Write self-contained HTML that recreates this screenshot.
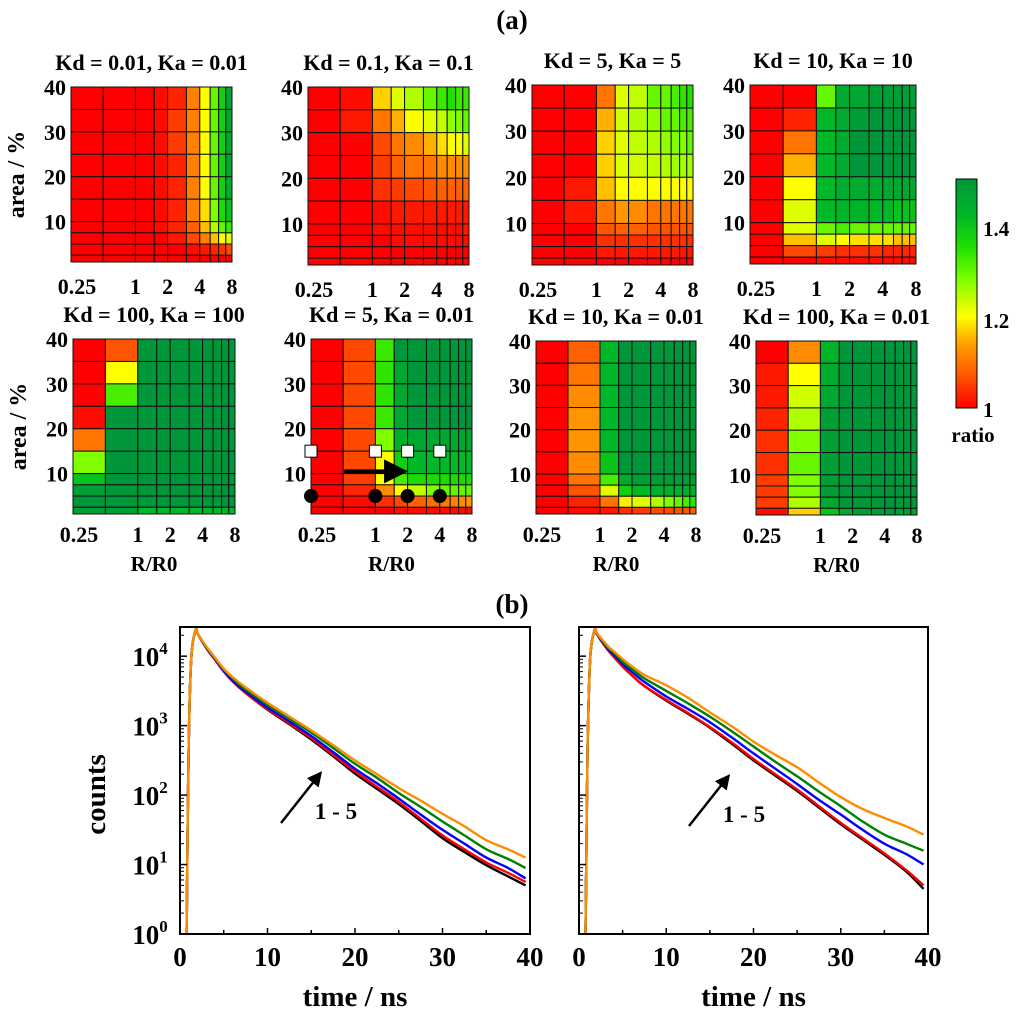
<!DOCTYPE html>
<html><head><meta charset="utf-8"><style>
html,body{margin:0;padding:0;background:#fff}
svg text{font-family:"Liberation Serif",serif;font-weight:bold;fill:#000}
</style></head><body>
<svg id="fig" width="1024" height="1017" viewBox="0 0 1024 1017" xmlns="http://www.w3.org/2000/svg">
<defs>
<linearGradient id="cbg" x1="0" y1="1" x2="0" y2="0">
<stop offset="0" stop-color="#ff0000"/><stop offset="0.16" stop-color="#ff6000"/><stop offset="0.28" stop-color="#ffa000"/><stop offset="0.4" stop-color="#ffff00"/><stop offset="0.56" stop-color="#80ff00"/><stop offset="0.7" stop-color="#20e000"/><stop offset="0.84" stop-color="#00b828"/><stop offset="1" stop-color="#00963a"/>
</linearGradient>
<marker id="ah" markerWidth="6" markerHeight="6" refX="4" refY="3" orient="auto" markerUnits="strokeWidth"><path d="M0,0 L6,3 L0,6 Z" fill="#000"/></marker>
</defs>
<text x="512" y="29" font-size="27" text-anchor="middle">(a)</text>
<text x="512" y="613" font-size="27" text-anchor="middle">(b)</text>
<g id="heat"></g>
<g>
<rect x="956" y="179" width="21" height="229" fill="url(#cbg)" stroke="#000" stroke-width="1"/>
<text x="983" y="236" font-size="21">1.4</text>
<text x="983" y="328" font-size="21">1.2</text>
<text x="983" y="417" font-size="21">1</text>
<text x="973" y="442" font-size="21" text-anchor="middle">ratio</text>
</g>
<g id="decay"></g>
</svg>
<script>
const NS="http://www.w3.org/2000/svg";
function mk(tag,attrs,parent,txt){const e=document.createElementNS(NS,tag);for(const k in attrs)e.setAttribute(k,attrs[k]);if(txt!==undefined)e.textContent=txt;parent.appendChild(e);return e;}

// ---------- heatmap data ----------
const xEdges=[0.25,0.5,1,1.5,2,3,4,5,6,7,8];
const yEdges=[40,35,30,25,20,15,10,7.5,5,2.5,1];
const xTickVals=[0.25,1,2,4,8];
const xTickLabels=["0.25","1","2","4","8"];
const yTickVals=[40,30,20,10];
const titles=["Kd = 0.01, Ka = 0.01","Kd = 0.1, Ka = 0.1","Kd = 5, Ka = 5","Kd = 10, Ka = 10","Kd = 100, Ka = 100","Kd = 5, Ka = 0.01","Kd = 10, Ka = 0.01","Kd = 100, Ka  = 0.01"];
const ratioP1=[
[1,1,1,1.01,1.03,1.11,1.2,1.3,1.38,1.46],
[1,1,1,1.01,1.05,1.11,1.2,1.3,1.38,1.46],
[1,1,1,1.01,1.05,1.11,1.2,1.3,1.38,1.46],
[1,1,1,1.01,1.03,1.11,1.2,1.3,1.38,1.46],
[1,1,1,1.01,1.03,1.11,1.2,1.3,1.38,1.44],
[1,1,1,1.01,1.03,1.11,1.18,1.28,1.36,1.4],
[1,1,1,1.01,1.03,1.08,1.16,1.25,1.3,1.33],
[1,1,1,1,1.02,1.06,1.11,1.16,1.2,1.22],
[1,1,1,1,1,1.01,1.02,1.03,1.04,1.06],
[1,1,1,1,1,1,1,1,1,1]];
const ratioP2=[
[1,1.01,1.17,1.22,1.25,1.3,1.33,1.35,1.33,1.33],
[1,1.02,1.1,1.15,1.2,1.22,1.24,1.27,1.28,1.3],
[1,1,1.06,1.1,1.12,1.15,1.18,1.2,1.2,1.22],
[1,1,1.05,1.08,1.1,1.1,1.12,1.12,1.12,1.12],
[1,1,1.04,1.05,1.06,1.07,1.08,1.08,1.08,1.08],
[1,1,1.01,1.02,1.02,1.02,1.02,1.02,1.02,1.02],
[1,1,1.01,1.01,1.01,1.01,1.01,1.01,1.01,1.02],
[1,1,1,1.01,1.01,1.01,1.01,1.01,1.01,1.01],
[1,1,1,1,1,1,1,1,1,1],
[1,1,1,1,1,1,1,1,1,1]];
const ratioP3=[
[1,1,1.1,1.22,1.24,1.3,1.3,1.32,1.34,1.35],
[1,1,1.15,1.23,1.25,1.27,1.3,1.3,1.32,1.32],
[1,1,1.17,1.22,1.24,1.25,1.27,1.28,1.28,1.3],
[1,1,1.17,1.22,1.23,1.24,1.25,1.26,1.26,1.26],
[1,1.02,1.16,1.2,1.2,1.2,1.2,1.2,1.2,1.2],
[1,1.02,1.1,1.13,1.12,1.1,1.1,1.1,1.1,1.1],
[1,1,1.07,1.08,1.08,1.07,1.07,1.07,1.07,1.07],
[1,1,1.04,1.04,1.04,1.04,1.04,1.04,1.04,1.04],
[1,1,1.02,1.02,1.02,1.02,1.02,1.02,1.02,1.02],
[1,1,1,1,1,1,1,1,1,1]];
const ratioP4=[
[1,1,1.3,1.45,1.46,1.48,1.48,1.48,1.48,1.48],
[1,1.03,1.42,1.45,1.48,1.5,1.5,1.5,1.5,1.5],
[1,1.1,1.42,1.45,1.5,1.5,1.5,1.5,1.5,1.5],
[1,1.15,1.42,1.45,1.5,1.5,1.5,1.5,1.5,1.5],
[1,1.2,1.42,1.45,1.45,1.45,1.46,1.46,1.46,1.46],
[1,1.22,1.42,1.43,1.43,1.42,1.42,1.4,1.4,1.4],
[1,1.22,1.3,1.32,1.3,1.3,1.3,1.3,1.3,1.3],
[1,1.16,1.22,1.2,1.18,1.18,1.18,1.16,1.16,1.16],
[1,1.06,1.05,1.04,1.04,1.04,1.03,1.03,1.03,1.03],
[1,1,1.01,1.01,1.01,1.01,1.01,1.01,1.01,1.01]];
const ratioP5=[
[1,1.07,1.5,1.5,1.5,1.5,1.5,1.5,1.5,1.5],
[1,1.2,1.5,1.5,1.5,1.5,1.5,1.5,1.5,1.5],
[1,1.32,1.5,1.5,1.5,1.5,1.5,1.5,1.5,1.5],
[1.01,1.5,1.5,1.5,1.5,1.5,1.5,1.5,1.5,1.5],
[1.1,1.5,1.5,1.5,1.5,1.5,1.5,1.5,1.5,1.5],
[1.28,1.5,1.5,1.5,1.5,1.5,1.5,1.5,1.5,1.5],
[1.4,1.5,1.5,1.5,1.5,1.5,1.5,1.5,1.5,1.5],
[1.48,1.5,1.5,1.5,1.5,1.5,1.5,1.5,1.5,1.5],
[1.5,1.5,1.5,1.5,1.5,1.5,1.5,1.5,1.5,1.5],
[1.48,1.48,1.42,1.42,1.42,1.42,1.42,1.42,1.42,1.42]];
const ratioP6=[
[1,1.06,1.33,1.5,1.5,1.5,1.5,1.5,1.5,1.5],
[1,1.06,1.34,1.46,1.5,1.5,1.5,1.5,1.5,1.5],
[1,1.06,1.34,1.46,1.5,1.5,1.5,1.5,1.5,1.5],
[1,1.06,1.33,1.46,1.5,1.5,1.5,1.5,1.5,1.5],
[1,1.06,1.28,1.44,1.46,1.46,1.46,1.46,1.46,1.46],
[1,1.06,1.2,1.38,1.42,1.42,1.42,1.42,1.42,1.42],
[1,1.05,1.2,1.32,1.36,1.36,1.36,1.36,1.36,1.36],
[1,1.03,1.12,1.2,1.24,1.28,1.3,1.3,1.3,1.3],
[1,1.01,1.04,1.06,1.08,1.09,1.1,1.11,1.12,1.13],
[1,1,1,1.01,1.01,1.01,1.01,1.01,1.01,1.01]];
const ratioP7=[
[1,1.08,1.42,1.5,1.5,1.5,1.5,1.5,1.5,1.5],
[1,1.1,1.42,1.5,1.5,1.5,1.5,1.5,1.5,1.5],
[1,1.12,1.42,1.5,1.5,1.5,1.5,1.5,1.5,1.5],
[1,1.13,1.42,1.5,1.5,1.5,1.5,1.5,1.5,1.5],
[1,1.13,1.42,1.5,1.5,1.5,1.5,1.5,1.5,1.5],
[1,1.12,1.4,1.5,1.5,1.5,1.5,1.5,1.5,1.5],
[1,1.1,1.32,1.45,1.48,1.48,1.48,1.48,1.48,1.48],
[1,1.07,1.22,1.38,1.42,1.44,1.44,1.44,1.44,1.44],
[1,1.03,1.1,1.19,1.22,1.25,1.28,1.3,1.32,1.34],
[1,1.01,1.02,1.04,1.05,1.06,1.06,1.07,1.07,1.08]];
const ratioP8=[
[1,1.12,1.43,1.5,1.5,1.5,1.5,1.5,1.5,1.5],
[1.02,1.2,1.45,1.5,1.5,1.5,1.5,1.5,1.5,1.5],
[1.02,1.23,1.46,1.5,1.5,1.5,1.5,1.5,1.5,1.5],
[1.03,1.25,1.48,1.5,1.5,1.5,1.5,1.5,1.5,1.5],
[1.04,1.28,1.48,1.5,1.5,1.5,1.5,1.5,1.5,1.5],
[1.04,1.3,1.48,1.5,1.5,1.5,1.5,1.5,1.5,1.5],
[1.05,1.28,1.48,1.5,1.5,1.5,1.5,1.5,1.5,1.5],
[1.05,1.28,1.48,1.5,1.5,1.5,1.5,1.5,1.5,1.5],
[1.05,1.25,1.46,1.5,1.5,1.5,1.5,1.5,1.5,1.5],
[1.01,1.17,1.4,1.46,1.48,1.48,1.48,1.48,1.48,1.48]];
const panelRatios=[ratioP1,ratioP2,ratioP3,ratioP4,ratioP5,ratioP6,ratioP7,ratioP8];
const markerSquaresX=[0.25,1,2,4];
const markerSquaresY=[15,15,15,15];
const markerCirclesX=[0.25,1,2,4];
const markerCirclesY=[5,5,5,5];

const boxes=[[71,87,161,175],[308,87,161,178],[532,85,161,180],[750,85,166,179],
[73,339,162,175],[311,339,161,175],[536,341,160,173],[756,341,161,174]];

const stops=[[1.0,[255,0,0]],[1.08,[255,96,0]],[1.14,[255,160,0]],[1.2,[255,255,0]],[1.28,[128,255,0]],[1.35,[32,224,0]],[1.42,[0,184,40]],[1.5,[0,150,58]]];
function cmap(v){v=Math.max(1,Math.min(1.5,v));for(let i=0;i<stops.length-1;i++){const a=stops[i],b=stops[i+1];if(v<=b[0]){const t=(v-a[0])/(b[0]-a[0]);const c=a[1].map((x,k)=>Math.round(x+(b[1][k]-x)*t));return `rgb(${c[0]},${c[1]},${c[2]})`;}}return 'rgb(0,150,58)';}

const heat=document.getElementById('heat');
panelRatios.forEach((M,p)=>{
  const [x0,y0,w,h]=boxes[p];
  const xs=v=>x0+(Math.log2(v)+2)/5*w;
  const ys=v=>y0+h-(v-1)/39*h;
  const g=mk('g',{},heat);
  
  
  const t=mk('text',{x:x0+w/2,y:y0-17,'font-size':22,'text-anchor':'middle'},g,titles[p]);
  
  
  for(let r=0;r<10;r++)for(let c=0;c<10;c++){
    const xa=xs(xEdges[c]),xb=xs(xEdges[c+1]),ya=ys(yEdges[r]),yb=ys(yEdges[r+1]);
    const rc=mk('rect',{x:xa,y:ya,width:xb-xa,height:yb-ya,fill:cmap(M[r][c]),stroke:'#111','stroke-width':1},g);
    
    
  }
  yTickVals.forEach(v=>{const tl=mk('text',{x:x0-5,y:ys(v)+8,'font-size':22,'text-anchor':'end'},g,String(v));
    
    });
  const ty=p<4?y0+h+32:y0+h+28;
  xTickVals.forEach((v,i)=>{const tl=mk('text',{x:xs(v)+(i==0?6:0),y:ty,'font-size':22,'text-anchor':'middle'},g,xTickLabels[i]);
    
    });
  if(p>=4){const xl=mk('text',{x:x0+w/2,y:y0+h+57,'font-size':21,'text-anchor':'middle'},g,'R/R0');
    
    }
  if(p==0||p==4){const yl=mk('text',{x:0,y:0,'font-size':24,'text-anchor':'middle',transform:`translate(${x0-47},${y0+h/2}) rotate(-90)`},g,'area / %');
    
    }
  if(p==5){
    markerSquaresX.forEach((v,i)=>{const s=mk('rect',{x:xs(v)-6,y:ys(markerSquaresY[i])-6,width:12,height:12,fill:'#fff',stroke:'#000','stroke-width':1},g);
      
      });
    markerCirclesX.forEach((v,i)=>{const s=mk('circle',{cx:xs(v),cy:ys(markerCirclesY[i]),r:7,fill:'#000'},g);
      
      });
    const ar=mk('line',{x1:xs(0.5)+1,y1:ys(10.5),x2:xs(1.7),y2:ys(10.5),stroke:'#000','stroke-width':4,'marker-end':'url(#ah)'},g);
    
    
  }
});

// ---------- decay curves ----------
const times=[0.75,0.85,1.0,1.3,1.8,2,2.5,3,3.5,4,5,6,7.5,10,12.5,15,17.5,20,22.5,25,27.5,30,32.5,35,37.5,39.5];
const seriesColors=["#000000","#ff0000","#0000ff","#008000","#ff8c00"];
const leftLog=[
[0,1.2,2.8,4.0,4.38,4.33,4.22,4.12,4.03,3.95,3.78,3.64,3.47,3.23,3.02,2.8,2.56,2.31,2.09,1.87,1.63,1.38,1.18,0.99,0.83,0.7],
[0,1.2,2.8,4.0,4.38,4.33,4.22,4.12,4.03,3.95,3.78,3.64,3.47,3.24,3.03,2.82,2.58,2.34,2.12,1.9,1.66,1.42,1.22,1.03,0.88,0.75],
[0,1.2,2.8,4.0,4.38,4.33,4.22,4.12,4.04,3.96,3.79,3.65,3.49,3.26,3.06,2.85,2.62,2.38,2.17,1.95,1.72,1.5,1.3,1.1,0.95,0.8],
[0,1.2,2.8,4.0,4.38,4.33,4.23,4.13,4.05,3.97,3.81,3.68,3.52,3.3,3.1,2.9,2.68,2.45,2.25,2.03,1.83,1.62,1.42,1.22,1.08,0.95],
[0,1.2,2.8,4.0,4.38,4.33,4.23,4.14,4.06,3.98,3.82,3.7,3.55,3.33,3.13,2.93,2.72,2.5,2.3,2.1,1.92,1.73,1.55,1.35,1.22,1.1]];
const rightLog=[
[0,1.2,2.8,4.0,4.38,4.33,4.23,4.14,4.06,3.99,3.85,3.73,3.57,3.36,3.17,2.97,2.74,2.5,2.28,2.06,1.82,1.58,1.36,1.14,0.9,0.65],
[0,1.2,2.8,4.0,4.38,4.33,4.23,4.14,4.06,3.99,3.85,3.73,3.57,3.37,3.18,2.98,2.76,2.52,2.3,2.08,1.84,1.6,1.38,1.16,0.92,0.7],
[0,1.2,2.8,4.0,4.38,4.33,4.24,4.16,4.08,4.02,3.89,3.78,3.63,3.42,3.24,3.05,2.83,2.6,2.38,2.16,1.93,1.72,1.5,1.3,1.15,1.0],
[0,1.2,2.8,4.0,4.38,4.34,4.25,4.17,4.1,4.05,3.92,3.82,3.68,3.5,3.32,3.13,2.92,2.7,2.48,2.27,2.05,1.84,1.62,1.43,1.3,1.2],
[0,1.2,2.8,4.0,4.38,4.34,4.26,4.19,4.12,4.07,3.96,3.86,3.73,3.58,3.4,3.19,2.99,2.77,2.58,2.4,2.18,1.97,1.8,1.67,1.55,1.43]];
const timeTicks=[0,10,20,30,40];
const countExps=[0,1,2,3,4];

const decay=document.getElementById('decay');
function decayPlot(x0,y0,w,h,data,name,showY,arrowBase){
  const g=mk('g',{},decay);
  
  
  const xs=t=>x0+t/40*w;
  const yTop=4.42;
  const ys=l=>y0+h-l/yTop*h;
  data.forEach((arr,s)=>{
    const pts=arr.map((l,i)=>[xs(times[i]),ys(l)]);
    let d='M'+pts[0][0].toFixed(1)+','+pts[0][1].toFixed(1);
    for(let i=0;i<pts.length-1;i++){
      const p0=pts[Math.max(0,i-1)],p1=pts[i],p2=pts[i+1],p3=pts[Math.min(pts.length-1,i+2)];
      const c1=[p1[0]+(p2[0]-p0[0])/6,p1[1]+(p2[1]-p0[1])/6],c2=[p2[0]-(p3[0]-p1[0])/6,p2[1]-(p3[1]-p1[1])/6];
      d+=` C${c1[0].toFixed(1)},${c1[1].toFixed(1)} ${c2[0].toFixed(1)},${c2[1].toFixed(1)} ${p2[0].toFixed(1)},${p2[1].toFixed(1)}`;
    }
    const pl=mk('path',{d:d,fill:'none',stroke:seriesColors[s],'stroke-width':2.4,'stroke-linejoin':'round'},g);
    
    
  });
  const fr=mk('rect',{x:x0,y:y0,width:w,height:h,fill:'none',stroke:'#000','stroke-width':2},g);
  
  
  timeTicks.forEach(t=>{
    mk('line',{x1:xs(t),y1:y0+h,x2:xs(t),y2:y0+h-6,stroke:'#000','stroke-width':1.5},g);
    if(t<40)mk('line',{x1:xs(t+5),y1:y0+h,x2:xs(t+5),y2:y0+h-4,stroke:'#000','stroke-width':1.5},g);
    const tl=mk('text',{x:xs(t),y:y0+h+32,'font-size':27,'text-anchor':'middle'},g,String(t));
    
    
  });
  countExps.forEach(e=>{
    mk('line',{x1:x0,y1:ys(e),x2:x0+7,y2:ys(e),stroke:'#000','stroke-width':1.5},g);
    for(let m=2;m<10;m++){const l=e+Math.log10(m);if(l<yTop)mk('line',{x1:x0,y1:ys(l),x2:x0+4,y2:ys(l),stroke:'#000','stroke-width':1},g);}
    if(showY){const tl=mk('text',{x:x0-30,y:ys(e)+10,'font-size':27,'text-anchor':'middle'},g,'10');
      
      
      mk('tspan',{dy:-12,'font-size':17},tl,String(e));}
  });
  const xt=mk('text',{x:x0+w/2,y:y0+h+72,'font-size':29,'text-anchor':'middle'},g,'time / ns');
  
  
  const ar=mk('line',{x1:arrowBase[0],y1:arrowBase[1],x2:arrowBase[0]+38,y2:arrowBase[1]-48,stroke:'#000','stroke-width':2.5,'marker-end':'url(#ah)'},g);
  
  
  const al=mk('text',{x:arrowBase[0]+55,y:arrowBase[1]-4,'font-size':23,'text-anchor':'middle'},g,'1 - 5');
  
  
  if(showY){const yt=mk('text',{x:0,y:0,'font-size':29,'text-anchor':'middle',transform:`translate(${x0-75},${y0+h/2+14}) rotate(-90)`},g,'counts');
    
    }
}
decayPlot(180,627,350,307,leftLog,'decay-plot-left',true,[281,823]);
decayPlot(579,627,349,307,rightLog,'decay-plot-right',false,[689,826]);
</script>
</body></html>
